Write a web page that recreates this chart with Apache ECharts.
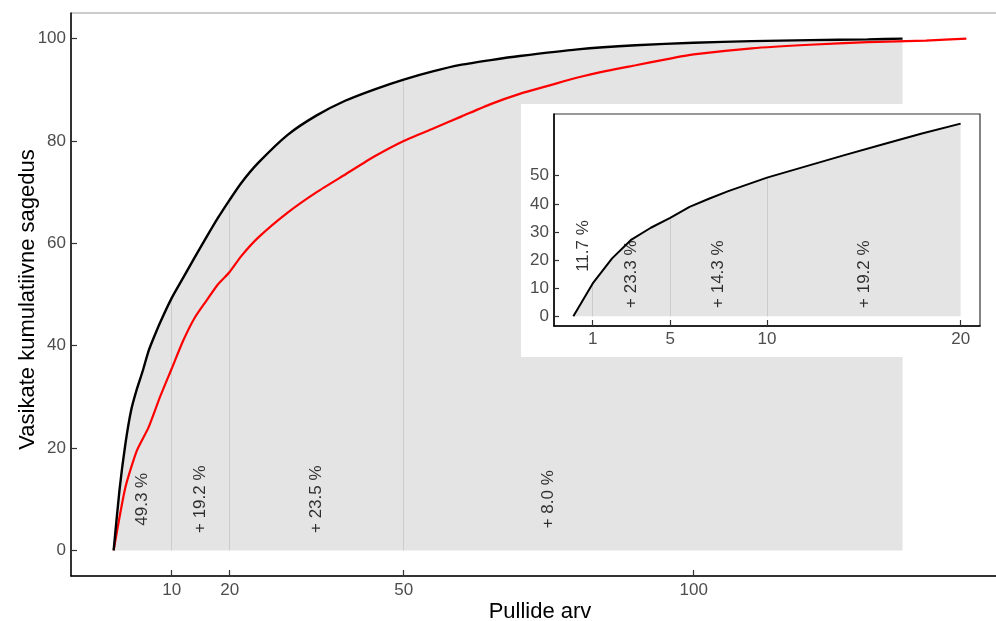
<!DOCTYPE html>
<html><head><meta charset="utf-8">
<script src="https://cdn.jsdelivr.net/npm/echarts@6/dist/echarts.min.js"></script>
<style>html,body{margin:0;padding:0;background:#fff}#c{width:996px;height:621px}</style>
</head><body><div id="c"></div>
<script>
// Black curve (cumulative frequency, first sample)
const blackX = [0,1,2,3,4,5,6,7,8,10,12,14,16,18,20,22,25,30,35,40,45,50,55,60,65,70,80,90,100,110,120,130,136];
const blackY = [0,11.7,20.6,27.3,31.5,35,38.9,41.8,44.5,49.3,53.3,57.3,61.2,65,68.5,71.8,75.8,81.2,85,87.9,90.1,92,93.6,94.9,95.8,96.6,97.9,98.7,99.2,99.5,99.7,99.85,100];
// Red curve
const redX = [0,2,4,6,8,10,12,14,16,18,20,22,25,30,35,40,45,50,55,60,65,70,75,80,85,90,95,100,110,120,130,140,147];
const redY = [0,12.2,19.5,24,30,35.5,41,45.5,48.8,52,54.4,57.5,61.2,66,70,73.5,77,80,82.4,84.8,87.2,89.2,90.8,92.4,93.7,94.8,95.9,96.9,98.1,98.8,99.3,99.6,100];
// Main annotations
const mainBreaks = [10,20,50];
const mainLabelX = [5,15,35,75];
const mainLabelY = [10,10,10,10];
const mainLabels = ['49.3 %','+ 19.2 %','+ 23.5 %','+ 8.0 %'];
// Inset annotations
const insetMaxX = 20;
const insetBreaks = [1,5,10];
const insetLabelX = [0.5,3,7.5,15];
const insetLabelY = [25,15,15,15];
const insetLabels = ['11.7 %','+ 23.3 %','+ 14.3 %','+ 19.2 %'];
// Ticks
const xTicks = [10,20,50,100];
const yTicks = [0,20,40,60,80,100];
const insetXTicks = [1,5,10,20];
const insetYTicks = [0,10,20,30,40,50];
const xTitle = 'Pullide arv';
const yTitle = 'Vasikate kumulatiivne sagedus';

const FONT = 'Liberation Sans, Arial, sans-serif';
const blackPts = blackX.map((x,i)=>[x,blackY[i]]);
const redPts = redX.map((x,i)=>[x,redY[i]]);
const insetPts = blackPts.filter(p=>p[0]<=insetMaxX);
const valAt = b => blackY[blackX.indexOf(b)];
const vlines = br => br.map(b=>({coords:[[b,0],[b,valAt(b)]]}));
const labelData = (xs,ys,ls) => xs.map((x,i)=>({value:[x,ys[i]],name:ls[i]}));

const tickLbl = {color:'#4d4d4d',fontSize:17,fontFamily:FONT};
const SM = 0.2;

const chart = echarts.init(document.getElementById('c'),null,{renderer:'canvas'});
chart.setOption({
  animation:false,
  backgroundColor:'#fff',
  textStyle:{fontFamily:FONT},
  grid:[
    {left:71,top:13,width:938,height:563,show:true,borderColor:'#999',borderWidth:1,backgroundColor:'transparent',outerBoundsMode:'none',containLabel:false},
    {left:554,top:114,width:426,height:212,outerBoundsMode:'none',containLabel:false}
  ],
  xAxis:[
    {gridIndex:0,type:'value',min:-7.35,max:154.35,
     name:xTitle,nameLocation:'middle',nameGap:25,nameMoveOverlap:false,nameTextStyle:{fontSize:22,color:'#000',fontFamily:FONT},
     axisLine:{show:true,onZero:false,lineStyle:{color:'#000',width:1.5}},
     axisTick:{show:true,inside:true,length:6,customValues:xTicks,lineStyle:{color:'#333',width:1.2}},
     axisLabel:Object.assign({margin:6,customValues:xTicks},tickLbl),
     splitLine:{show:false}},
    {gridIndex:1,type:'value',min:-1,max:21,z:40,
     axisLine:{show:true,onZero:false,lineStyle:{color:'#000',width:1.5}},
     axisTick:{show:true,inside:true,length:6,customValues:insetXTicks,lineStyle:{color:'#333',width:1.2}},
     axisLabel:Object.assign({margin:5,customValues:insetXTicks},tickLbl),
     splitLine:{show:false}}
  ],
  yAxis:[
    {gridIndex:0,type:'value',min:-5,max:105,
     name:yTitle,nameLocation:'middle',nameGap:32,nameRotate:90,nameMoveOverlap:false,nameTextStyle:{fontSize:22,color:'#000',fontFamily:FONT,padding:[0,10,0,0]},
     axisLine:{show:true,onZero:false,lineStyle:{color:'#000',width:1.5}},
     axisTick:{show:true,inside:true,length:6,customValues:yTicks,lineStyle:{color:'#333',width:1.2}},
     axisLabel:Object.assign({margin:5,customValues:yTicks},tickLbl),
     splitLine:{show:false}},
    {gridIndex:1,type:'value',min:-3.425,max:71.925,z:40,
     axisLine:{show:true,onZero:false,lineStyle:{color:'#000',width:1.5}},
     axisTick:{show:true,inside:true,length:5,customValues:insetYTicks,lineStyle:{color:'#333',width:1.2}},
     axisLabel:Object.assign({margin:5,customValues:insetYTicks},tickLbl),
     splitLine:{show:false}}
  ],
  graphic:[
    {type:'rect',z:10,zlevel:0,silent:true,shape:{x:521,y:104,width:480,height:253},style:{fill:'#fff'}},
    {type:'rect',z:35,zlevel:0,silent:true,shape:{x:554,y:114,width:426,height:212},style:{fill:'none',stroke:'#333',lineWidth:1.2}}
  ],
  series:[
    {type:'line',xAxisIndex:0,yAxisIndex:0,data:blackPts,symbol:'none',z:1,smooth:SM,
     lineStyle:{width:0,opacity:0},areaStyle:{color:'#e4e4e4',opacity:1,origin:0},silent:true},
    {type:'lines',coordinateSystem:'cartesian2d',xAxisIndex:0,yAxisIndex:0,data:vlines(mainBreaks),z:2,
     lineStyle:{color:'#cccccc',width:1,opacity:1},symbol:'none',silent:true},
    {type:'line',xAxisIndex:0,yAxisIndex:0,data:redPts,symbol:'none',z:3,smooth:SM,
     lineStyle:{color:'#ff0000',width:2.2}},
    {type:'line',xAxisIndex:0,yAxisIndex:0,data:blackPts,symbol:'none',z:4,smooth:SM,
     lineStyle:{color:'#000',width:2.4}},
    {type:'scatter',xAxisIndex:0,yAxisIndex:0,data:labelData(mainLabelX,mainLabelY,mainLabels),symbolSize:0,z:5,
     label:{show:true,position:'inside',rotate:90,formatter:'{b}',color:'#000',fontSize:17,fontFamily:FONT},silent:true},
    // inset
    {type:'line',xAxisIndex:1,yAxisIndex:1,data:insetPts,symbol:'none',z:20,
     lineStyle:{width:0,opacity:0},areaStyle:{color:'#e4e4e4',opacity:1,origin:0},silent:true},
    {type:'lines',coordinateSystem:'cartesian2d',xAxisIndex:1,yAxisIndex:1,data:vlines(insetBreaks),z:21,
     lineStyle:{color:'#cccccc',width:1,opacity:1},symbol:'none',silent:true},
    {type:'line',xAxisIndex:1,yAxisIndex:1,data:insetPts,symbol:'none',z:22,
     lineStyle:{color:'#000',width:2}},
    {type:'scatter',xAxisIndex:1,yAxisIndex:1,data:labelData(insetLabelX,insetLabelY,insetLabels),symbolSize:0,z:23,
     label:{show:true,position:'inside',rotate:90,formatter:'{b}',color:'#000',fontSize:17,fontFamily:FONT},silent:true}
  ]
});
</script></body></html>
